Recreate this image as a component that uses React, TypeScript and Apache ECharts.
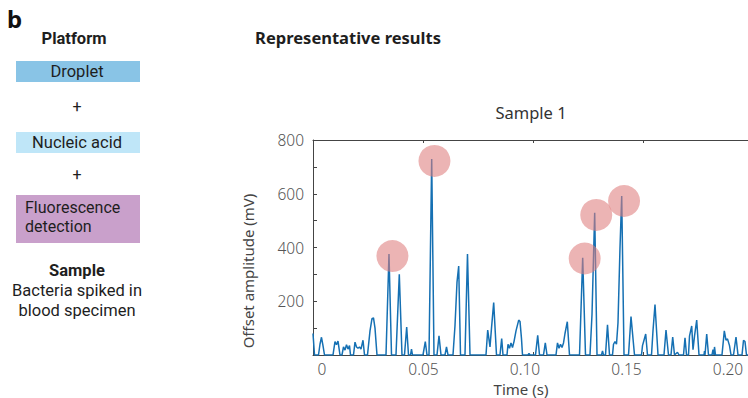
import React, { useEffect, useRef } from "react";
import * as echarts from "echarts";

// Trace: time (ms) and offset amplitude (mV)
const timeMs = [
  -4.43, -3.69, -1.72, -0.99, -0.25, 0.49, 1.23, 5.42, 6.4, 7.14, 7.88, 8.87, 9.85, 10.59, 11.33, 12.07,
  12.81, 13.55, 14.04, 15.52, 16.26, 17.0, 17.73, 18.47, 19.21, 20.2, 20.94, 22.41, 23.65, 24.63, 25.37,
  26.11, 27.09, 31.53, 33.0, 34.24, 36.45, 38.08, 39.41, 40.64, 41.72, 42.61, 43.6, 44.09, 44.58, 49.75,
  50.89, 51.72, 52.71, 54.04, 55.17, 56.65, 57.64, 58.62, 60.59, 61.33, 62.07, 64.53, 65.52, 66.5, 67.34,
  68.23, 70.44, 71.67, 72.91, 80.79, 81.63, 82.76, 83.5, 84.58, 85.96, 87.68, 88.52, 89.16, 91.13, 91.63,
  92.36, 93.1, 93.84, 94.58, 95.57, 96.9, 97.54, 98.28, 98.77, 101.48, 101.97, 102.46, 105.17, 106.26,
  107.14, 109.11, 110.0, 110.84, 115.27, 116.01, 116.75, 117.49, 118.23, 118.97, 119.7, 120.84, 121.92,
  126.85, 128.42, 129.8, 132.02, 133.0, 134.33, 135.47, 137.68, 138.18, 138.67, 139.66, 140.64, 141.63,
  143.1, 143.6, 144.33, 145.07, 145.81, 146.8, 147.64, 148.77, 150.99, 152.22, 153.94, 157.39, 157.88,
  158.62, 159.46, 160.34, 162.32, 163.05, 164.04, 165.52, 168.47, 169.46, 170.69, 171.92, 172.76, 173.65,
  175.12, 175.86, 178.08, 178.82, 179.56, 180.54, 181.03, 182.12, 182.76, 183.5, 184.58, 185.71, 188.18,
  188.42, 188.67, 189.51, 190.39, 192.12, 192.61, 193.1, 193.35, 193.84, 197.04, 198.18, 199.01, 199.75,
  200.74, 201.48, 202.71, 203.94, 204.93, 206.9, 207.64, 208.37, 209.11, 209.85,
];
const amplitude = [
  80, 0, 0, 40, 66, 35, 0, 0, 50, 38, 52, 0, 0, 30, 18, 38,
  22, 35, 0, 0, 48, 30, 25, 30, 22, 55, 0, 0, 90, 135, 138,
  100, 0, 0, 376, 0, 0, 300, 0, 0, 104, 0, 0, 22, 0, 0,
  50, 0, 0, 729, 0, 0, 71, 0, 0, 30, 0, 0, 110, 270, 331,
  0, 0, 376, 0, 0, 93, 30, 100, 195, 0, 0, 61, 0, 0, 40,
  25, 45, 28, 50, 90, 130, 125, 60, 0, 0, 6, 0, 0, 73,
  0, 0, 45, 0, 0, 45, 25, 40, 28, 45, 80, 124, 0,
  0, 362, 0, 0, 150, 529, 0, 0, 15, 0, 0, 112, 0,
  0, 40, 50, 40, 120, 400, 592, 0, 0, 143, 0, 0, 35,
  55, 78, 0, 0, 90, 188, 0, 0, 93, 0, 0, 67, 0,
  10, 0, 0, 64, 0, 0, 70, 108, 20, 70, 130, 0, 0,
  15, 0, 78, 0, 0, 20, 0, 30, 0, 0, 90, 55, 60,
  35, 0, 0, 67, 0, 0, 55, 50, 0, 0,
];

// Highlighted droplets (circles)
const highlightTimeMs = [34.7, 55.4, 129.4, 135.1, 148.8];
const highlightAmp = [368, 722, 359, 521, 573];

const xTickLabels = [0, 0.05, 0.1, 0.15, 0.2];
const xFrameTicks = [0.0498, 0.1039, 0.1581];
const yTickLabels = [200, 400, 600, 800];

const FONT = "'Noto Sans', 'Open Sans', sans-serif";
const PANEL_FONT = "Roboto, 'Noto Sans', sans-serif";

export default function App() {
  const ref = useRef<HTMLDivElement>(null);

  useEffect(() => {
    if (!ref.current) return;
    const chart = echarts.init(ref.current, null, { renderer: "svg" });
    const lineData = timeMs.map((t, i) => [t / 1000, amplitude[i]]);
    const circleData = highlightTimeMs.map((t, i) => [t / 1000, highlightAmp[i]]);

    const txt = (
      text: string,
      x: number,
      y: number,
      size: number,
      weight: string | number = "normal",
      align = "center",
      fill = "#1e1e1e",
      rotation = 0,
      family = FONT
    ) => ({
      type: "text",
      x,
      y,
      rotation,
      silent: true,
      style: {
        text,
        fill,
        font: `${weight} ${size}px ${family}`,
        textAlign: align,
        textVerticalAlign: "middle",
        align,
        verticalAlign: "middle",
      },
    });
    const ptxt = (
      text: string,
      x: number,
      y: number,
      size: number,
      weight: string | number = "normal",
      align = "center"
    ) => txt(text, x, y, size, weight, align, "#1e1e1e", 0, PANEL_FONT);

    const rect = (x: number, y: number, w: number, h: number, fill: string) => ({
      type: "rect",
      shape: { x, y, width: w, height: h },
      style: { fill },
      silent: true,
    });

    const axisLabelStyle = {
      color: "#555",
      fontSize: 15.5,
      fontWeight: 300,
      fontFamily: FONT,
    };

    const option: any = {
      animation: false,
      grid: { left: 313, right: 0, top: 140, bottom: 43, containLabel: false },
      xAxis: [
        {
          type: "value",
          min: -0.00443,
          max: 0.20985,
          position: "bottom",
          splitLine: { show: false },
          axisLine: { show: true, onZero: false, lineStyle: { color: "#444", width: 1 } },
          axisTick: {
            show: true,
            inside: true,
            length: 3,
            customValues: xFrameTicks,
            lineStyle: { color: "#444" },
          },
          axisLabel: {
            show: true,
            customValues: xTickLabels,
            margin: 6,
            ...axisLabelStyle,
            formatter: (v: number) => (v === 0 ? "0" : v.toFixed(2)),
          },
        },
        {
          type: "value",
          min: -0.00443,
          max: 0.20985,
          position: "top",
          splitLine: { show: false },
          axisLine: { show: true, onZero: false, lineStyle: { color: "#444", width: 1 } },
          axisTick: {
            show: true,
            inside: true,
            length: 3,
            customValues: xFrameTicks,
            lineStyle: { color: "#444" },
          },
          axisLabel: { show: false },
        },
      ],
      yAxis: {
        type: "value",
        min: 0,
        max: 800,
        interval: 100,
        splitLine: { show: false },
        axisLine: { show: true, onZero: false, lineStyle: { color: "#444", width: 1 } },
        axisTick: { show: true, inside: true, length: 4, lineStyle: { color: "#444" } },
        axisLabel: {
          customValues: yTickLabels,
          margin: 9,
          ...axisLabelStyle,
          padding: [8, 0, 0, 0],
        },
      },
      series: [
        {
          type: "line",
          data: lineData,
          showSymbol: false,
          symbol: "none",
          lineStyle: { color: "#1570b3", width: 1.5 },
          z: 2,
          silent: true,
        },
        {
          type: "scatter",
          data: circleData,
          symbolSize: 32,
          itemStyle: { color: "rgba(222,125,125,0.72)" },
          z: 3,
          silent: true,
        },
      ],
      graphic: [
        txt("b", 7, 18, 24, "bold", "left", "#111"),
        ptxt("Platform", 74, 38, 16.5, "bold"),
        rect(16, 61, 124, 21, "#89c4e6"),
        ptxt("Droplet", 77, 71.5, 16.5),
        ptxt("+", 77, 106, 16),
        rect(16, 132, 124, 21, "#bfe6f8"),
        ptxt("Nucleic acid", 77, 142.5, 16.5),
        ptxt("+", 77, 174, 16),
        rect(16, 195, 124, 48, "#c9a0cb"),
        ptxt("Fluorescence", 25, 207, 16, "normal", "left"),
        ptxt("detection", 25, 226.5, 16, "normal", "left"),
        ptxt("Sample", 77, 270, 16.5, "bold"),
        ptxt("Bacteria spiked in", 77, 290, 16.5),
        ptxt("blood specimen", 77, 310, 16.5),
        txt("Representative results", 348, 37, 16.5, "bold"),
        txt("Sample 1", 531, 112, 16.5, "normal", "center", "#333"),
        txt("Time (s)", 521, 389, 15, "normal", "center", "#444"),
        txt("Offset amplitude (mV)", 248, 271, 15, "normal", "center", "#444", Math.PI / 2),
      ],
    };
    chart.setOption(option);
    return () => chart.dispose();
  }, []);

  return (
    <div
      ref={ref}
      style={{ position: "fixed", left: 0, top: 0, width: 748, height: 398, background: "#fff" }}
    />
  );
}
